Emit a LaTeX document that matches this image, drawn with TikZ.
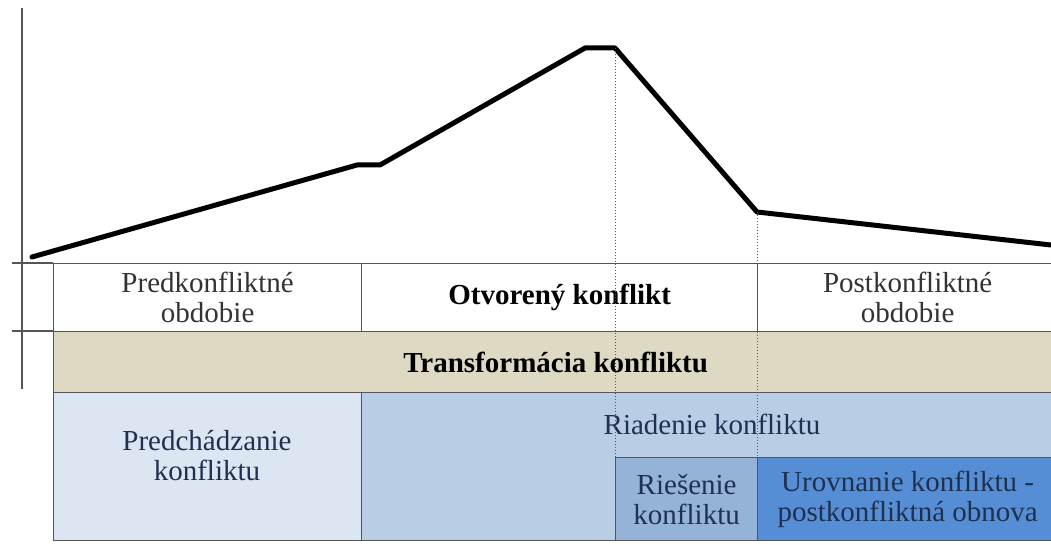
\documentclass[tikz,border=0pt]{standalone}
\usepackage{fontspec}
\setmainfont{Liberation Serif}
\newfontfamily\tmsfont{Liberation Serif}
\definecolor{tan}{HTML}{DDD9C3}
\definecolor{pale}{HTML}{DCE6F2}
\definecolor{midb}{HTML}{B9CDE5}
\definecolor{deepb}{HTML}{95B3D7}
\definecolor{strongb}{HTML}{558ED5}
\definecolor{navy}{HTML}{1F3050}
\definecolor{gridc}{HTML}{555555}
\begin{document}
\begin{tikzpicture}[x=1pt,y=-1pt,
  cell/.style={rectangle,draw=gridc,line width=1.3pt,anchor=north west,inner sep=0pt,align=center,
     font=\tmsfont\fontsize{29}{30}\selectfont},
  lbl/.style={inner sep=0pt,align=center,font=\tmsfont\fontsize{29}{30}\selectfont},
  curve/.style={line width=5pt,line join=round,line cap=round},
  guide/.style={draw=gridc,line width=1pt,dotted},
  axis/.style={draw=gridc,line width=1.5pt}]
\useasboundingbox (0,0) rectangle (1051,545);
% row 1
\node[cell,fill=white,minimum width=308pt,minimum height=68pt,text=black!80] (pre) at (53,263) {Predkonfliktné\\obdobie};
\node[cell,fill=white,minimum width=396pt,minimum height=68pt,font=\tmsfont\fontsize{29}{30}\selectfont\bfseries] (open) at (361,263) {Otvorený konflikt};
\node[cell,fill=white,minimum width=300pt,minimum height=68pt,text=black!80] (post) at (757,263) {Postkonfliktné\\obdobie};
% row 2
\node[cell,fill=tan,minimum width=1004pt,minimum height=61pt,font=\tmsfont\fontsize{29}{30}\selectfont\bfseries] (trans) at (53,331) {Transformácia konfliktu};
% row 3
\node[cell,fill=pale,minimum width=308pt,minimum height=148pt] (prev) at (53,392) {};
\node[lbl,text=navy] (prevlbl) at (207,456) {Predchádzanie\\konfliktu};
\node[cell,fill=midb,minimum width=696pt,minimum height=148pt] (mgmt) at (361,392) {};
\node[lbl,text=navy] (mgmtlbl) at (712,424) {Riadenie konfliktu};
\node[cell,fill=deepb,minimum width=142pt,minimum height=83pt,text=navy] (res) at (615,457) {Riešenie\\konfliktu};
\node[cell,fill=strongb,minimum width=300pt,minimum height=83pt,text=navy] (settle) at (757,457) {Urovnanie konfliktu -\\postkonfliktná obnova};
% axis and ticks
\coordinate (axtop) at (22,8);
\coordinate (axbot) at (22,389);
\coordinate (t1) at (12,263);
\coordinate (t2) at (12,331);
\draw[axis] (axtop) -- (axbot);
\draw[axis] (t1) -- (pre.north west);
\draw[axis] (t2) -- (trans.north west);
% curve
\coordinate (c0) at (32,257);
\coordinate (c1) at (357,165);
\coordinate (c2) at (380,165);
\coordinate (c3) at (585,48);
\coordinate (c4) at (615,48);
\coordinate (c5) at (757,212);
\coordinate (c6) at (1051,245);
\draw[curve] (c0) -- (c1) -- (c2) -- (c3) -- (c4) -- (c5) -- (c6);
% guides
\coordinate (g1b) at (615,540);
\coordinate (g2b) at (757,457);
\draw[guide] (c4) -- (g1b);
\draw[guide] (c5) -- (g2b);
\end{tikzpicture}
\end{document}
